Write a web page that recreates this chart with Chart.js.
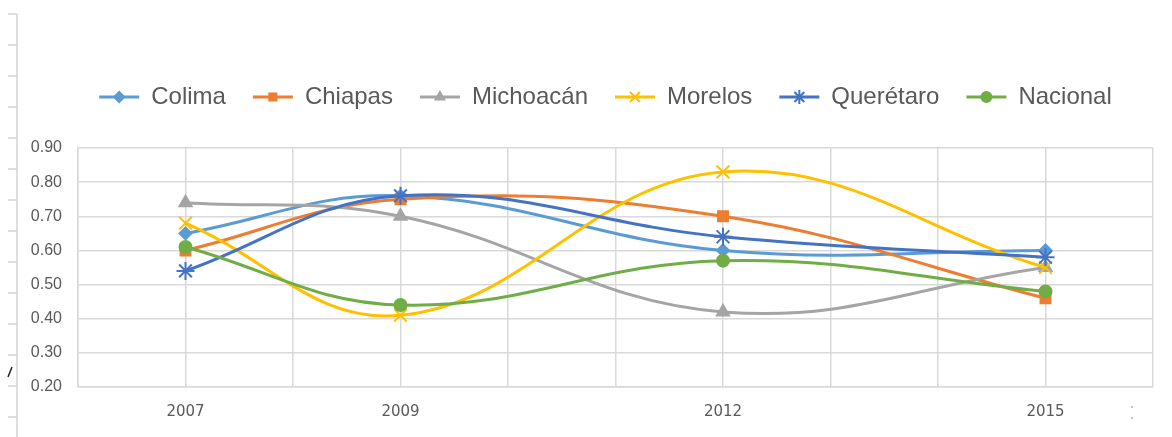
<!DOCTYPE html>
<html lang="es">
<head>
<meta charset="UTF-8">
<title>Índice por entidad</title>
<style>
  html, body { margin: 0; padding: 0; background: #fff; }
  #wrap { width: 1172px; height: 437px; position: relative; }
</style>
</head>
<body>
<div id="wrap"><canvas id="chart"></canvas></div>
<script src="https://cdn.jsdelivr.net/npm/chart.js@4"></script>
<script>
// data
const years = [2007, 2009, 2012, 2015];
const colima = [0.65, 0.76, 0.60, 0.60];
const chiapas = [0.60, 0.75, 0.70, 0.46];
const michoacan = [0.74, 0.70, 0.42, 0.55];
const morelos = [0.68, 0.41, 0.83, 0.55];
const queretaro = [0.54, 0.76, 0.64, 0.58];
const nacional = [0.61, 0.44, 0.57, 0.48];

const names = ["Colima", "Chiapas", "Michoacán", "Morelos", "Querétaro", "Nacional"];
const values = [colima, chiapas, michoacan, morelos, queretaro, nacional];
const colors = ["#5B9BD5", "#ED7D31", "#A5A5A5", "#FFC000", "#4472C4", "#70AD47"];
const markers = ["rectRot", "rect", "triangle", "crossRot", "star", "circle"];
const radii = [6, 7, 7, 9, 9, 6];

const datasets = names.map((name, i) => ({
  label: name,
  data: years.map((yr, j) => ({ x: yr, y: values[i][j] })),
  borderColor: colors[i],
  backgroundColor: colors[i],
  borderWidth: 3,
  pointStyle: markers[i],
  pointRadius: radii[i],
  pointBorderWidth: 2,
  tension: 0.4,
  order: names.length - i // later series on top, like Excel
}));

// draw the marker on top of each legend line
const legendMarkers = {
  id: "legendMarkers",
  afterDraw(chart) {
    const lg = chart.legend;
    if (!lg || !lg.legendHitBoxes || !Chart.helpers.drawPoint) return;
    const ctx = chart.ctx;
    const bw = lg.options.labels.boxWidth;
    lg.legendItems.forEach((item, i) => {
      const box = lg.legendHitBoxes[i];
      const ds = chart.data.datasets[item.datasetIndex];
      const r = ds.pointStyle === "crossRot" || ds.pointStyle === "star" ? 7 : 5;
      ctx.save();
      ctx.fillStyle = ds.borderColor;
      ctx.strokeStyle = ds.borderColor;
      ctx.lineWidth = 2;
      Chart.helpers.drawPoint(ctx, { pointStyle: ds.pointStyle, radius: r, rotation: 0, borderWidth: 2 },
        box.left + bw / 2, box.top + box.height / 2);
      ctx.restore();
    });
  }
};

// extra room under the legend, and legend nudged right a little
const legendGap = {
  id: "legendGap",
  beforeInit(chart) {
    const fit = chart.legend.fit;
    chart.legend.fit = function () {
      fit.call(this);
      this.height += 29;
    };
  },
  afterLayout(chart) {
    chart.legend.left += 29;
    chart.legend.right += 29;
  }
};

// leftovers of the cropped sheet around the chart
const frame = {
  id: "frame",
  afterDraw(chart) {
    const ctx = chart.ctx;
    ctx.save();
    ctx.strokeStyle = "#d4d4d4";
    ctx.lineWidth = 1.5;
    ctx.beginPath();
    ctx.moveTo(17, 14);
    ctx.lineTo(17, 437);
    for (let y = 14; y < 437; y += 31) {
      ctx.moveTo(8, y);
      ctx.lineTo(17, y);
    }
    ctx.stroke();
    ctx.strokeStyle = "#222";
    ctx.beginPath();
    ctx.moveTo(8, 377);
    ctx.lineTo(12, 367);
    ctx.stroke();
    ctx.fillStyle = "#c8c8c8";
    ctx.fillRect(1131, 406, 2, 2);
    ctx.fillRect(1131, 417, 2, 2);
    ctx.restore();
  }
};

const ctx = document.getElementById("chart").getContext("2d");
new Chart(ctx, {
  type: "line",
  data: { datasets },
  options: {
    responsive: true,
    maintainAspectRatio: false,
    animation: false,
    layout: { padding: { top: 58, left: 0, right: 19, bottom: 0 } },
    plugins: {
      legend: {
        position: "top",
        labels: {
          boxWidth: 40,
          boxHeight: 3,
          padding: 27,
          color: "#595959",
          font: { family: "'Liberation Sans', Arial, sans-serif", size: 24 },
          sort: (a, b) => a.datasetIndex - b.datasetIndex,
          generateLabels(chart) {
            return Chart.defaults.plugins.legend.labels.generateLabels(chart)
              .map(l => Object.assign(l, { lineWidth: 0 }));
          }
        }
      },
      tooltip: { enabled: false }
    },
    scales: {
      x: {
        type: "linear",
        min: 2006,
        max: 2016,
        afterFit(scale) { scale.height = 50; },
        grid: { color: "#D9D9D9", lineWidth: 1.5, drawTicks: false },
        border: { color: "#D9D9D9", width: 1.5 },
        ticks: {
          stepSize: 1,
          autoSkip: false,
          maxRotation: 0,
          padding: 16,
          color: "#595959",
          font: { family: "'DejaVu Sans', sans-serif", size: 15 },
          callback: v => years.includes(v) ? String(v) : ""
        }
      },
      y: {
        min: 0.2,
        max: 0.9,
        afterFit(scale) { scale.width = 78; },
        grid: { color: "#D9D9D9", lineWidth: 1.5, drawTicks: false },
        border: { color: "#D9D9D9", width: 1.5 },
        ticks: {
          stepSize: 0.1,
          padding: 16,
          color: "#595959",
          font: { family: "'Liberation Sans', Arial, sans-serif", size: 16 },
          callback: v => v.toFixed(2)
        }
      }
    }
  },
  plugins: [legendGap, legendMarkers, frame]
});
</script>
</body>
</html>
